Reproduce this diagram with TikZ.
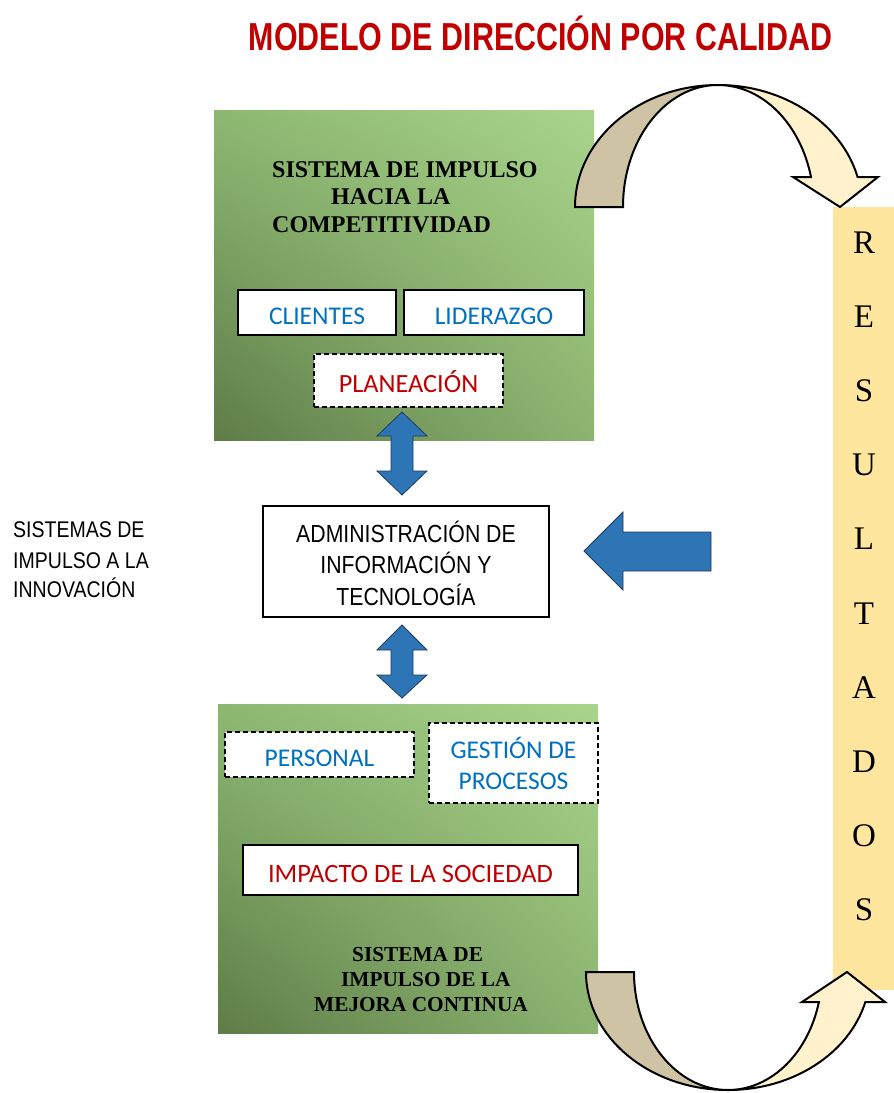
\documentclass[tikz,border=0pt]{standalone}
\usepackage{fontspec}
\setmainfont{Liberation Serif}
\newfontfamily\boxfont{Carlito}
\newfontfamily\narrowsans[FakeStretch=0.86]{Liberation Sans}
\newfontfamily\titlefont[FakeStretch=0.78]{Liberation Sans}
\usetikzlibrary{calc,shadings}

\definecolor{titlered}{HTML}{C00000}
\definecolor{txtblue}{HTML}{0070C0}
\definecolor{arrblue}{HTML}{2E75B6}
\definecolor{arredge}{HTML}{1F3A5C}
\definecolor{tanshade}{HTML}{CEC3A4}
\definecolor{creamshade}{HTML}{FFF2CC}
\definecolor{barfill}{HTML}{FFE69F}
\definecolor{gUL}{HTML}{8DB872}
\definecolor{gUR}{HTML}{A9D48B}
\definecolor{gLL}{HTML}{5E7C48}
\definecolor{gLR}{HTML}{8CB470}

\tikzset{
  greenbox/.style={rectangle, inner sep=0pt,
    upper left=gUL, upper right=gUR, lower left=gLL, lower right=gLR},
  solidbox/.style={rectangle, draw=black, line width=1.6pt, fill=white,
    inner sep=0pt, font=\boxfont\fontsize{25.5}{31}\selectfont, align=center},
  dashbox/.style={solidbox, dash pattern=on 5pt off 3pt},
  capsfix/.style={text height=24.5pt, text depth=0pt},
  systitle/.style={anchor=base west, inner sep=0pt, font=\bfseries\fontsize{#1}{#1}\selectfont},
  sanslabel/.style={inner sep=0pt, font=\narrowsans\fontsize{#1}{#1}\selectfont},
  bluearrow/.style={fill=arrblue, draw=arredge, line width=0.8pt, line join=miter},
  curvetan/.style={fill=tanshade, draw=black, line width=2pt, line join=miter},
  curvecream/.style={fill=creamshade, draw=black, line width=2pt, line join=miter},
  letter/.style={anchor=base, inner sep=0pt, font=\fontsize{33}{33}\selectfont}
}

\begin{document}
\begin{tikzpicture}[x=1pt, y=-1pt]
\useasboundingbox (0,0) rectangle (894,1093);

% heading
\node[anchor=base, inner sep=0pt, text=titlered,
      font=\titlefont\bfseries\fontsize{39}{40}\selectfont] (title) at (540.5,50)
  {MODELO DE DIRECCIÓN POR CALIDAD};

% upper system block
\node[greenbox, minimum width=380pt, minimum height=330pt] (compet) at (404,275) {};
\node[systitle=24] (compA) at (272,177) {SISTEMA DE IMPULSO};
\node[systitle=24] (compB) at (331,204) {HACIA LA};
\node[systitle=24] (compC) at (272,232) {COMPETITIVIDAD};
\node[solidbox, capsfix, text=txtblue, minimum width=158pt, minimum height=45pt] (clientes) at (317,312.5) {CLIENTES};
\node[solidbox, capsfix, text=txtblue, minimum width=180pt, minimum height=45pt] (liderazgo) at (494,312.5) {LIDERAZGO};
\node[dashbox, capsfix, text=titlered, minimum width=189pt, minimum height=53pt,
      font=\boxfont\fontsize{26.3}{31}\selectfont] (planeacion) at (408.5,380.5) {PLANEACIÓN};

% lower system block
\node[greenbox, minimum width=380pt, minimum height=329pt] (mejora) at (408,868.5) {};
\node[dashbox, capsfix, text=txtblue, minimum width=189pt, minimum height=45pt] (personal) at (319.5,754.5) {PERSONAL};
\node[dashbox, text=txtblue, minimum width=169pt, minimum height=80pt] (procesos) at (513.5,763) {GESTIÓN DE\\PROCESOS};
\node[solidbox, capsfix, text=titlered, minimum width=335pt, minimum height=50pt,
      font=\boxfont\fontsize{26.5}{31}\selectfont] (impacto) at (410.5,870) {IMPACTO DE LA SOCIEDAD};
\node[systitle=21.3] (mejA) at (352,961) {SISTEMA DE};
\node[systitle=21.3] (mejB) at (341,986) {IMPULSO DE LA};
\node[systitle=21.3] (mejC) at (314,1011) {MEJORA CONTINUA};

% central block
\node[rectangle, draw=black, line width=1.4pt, fill=white, inner sep=0pt,
      minimum width=286pt, minimum height=111pt, align=center,
      text height=87pt, text depth=0pt,
      font=\narrowsans\fontsize{24.7}{31.5}\selectfont] (admin) at (406,561.5)
  {ADMINISTRACIÓN DE\\INFORMACIÓN Y\\TECNOLOGÍA};

% side caption
\node[sanslabel=22.7, anchor=base west] (innA) at (13,537) {SISTEMAS DE};
\node[sanslabel=22.7, anchor=base west] (innB) at (13,568) {IMPULSO A LA};
\node[sanslabel=22.7, anchor=base west] (innC) at (13,597) {INNOVACIÓN};

% two-way links to the central block
\coordinate (ua) at (402,412);
\coordinate (ub) at (402,495);
\coordinate (la) at (402,625);
\coordinate (lb) at (402,698);
\draw[bluearrow] (ua) -- ++(25,24) -- ++(-14,0) -- ($(ub)+(11,-24)$) -- ++(14,0)
  -- (ub) -- ++(-25,-24) -- ++(14,0) -- ($(ua)+(-11,24)$) -- ++(-14,0) -- cycle;
\draw[bluearrow] (la) -- ++(25,25) -- ++(-14,0) -- ($(lb)+(11,-23)$) -- ++(14,0)
  -- (lb) -- ++(-25,-23) -- ++(14,0) -- ($(la)+(-11,25)$) -- ++(-14,0) -- cycle;

% feedback arrow into the central block
\coordinate (fb) at (584,551);
\draw[bluearrow] (fb) -- ++(39,-39) -- ++(0,20) -- ++(88,0) -- ++(0,39)
  -- ++(-88,0) -- ++(0,19) -- cycle;

% results column
\node[fill=barfill, inner sep=0pt, minimum width=61pt, minimum height=783pt] (bar) at (863.5,598.5) {};
\foreach \ch [count=\i from 0] in {R,E,S,U,L,T,A,D,O,S}
  \node[letter] (res\i) at (864,{253+74.2*\i}) {\ch};

% upper curved arrow
\draw[curvetan] (575,207) arc[start angle=180, end angle=270, x radius=143, y radius=122]
  arc[start angle=270, end angle=180, x radius=95, y radius=122] -- cycle;
\draw[curvecream] (718,85) arc[start angle=270, end angle=345.76, x radius=144, y radius=122]
  -- (878,177) -- (840,207) -- (793,177) -- (811,177)
  arc[start angle=345.76, end angle=270, x radius=96, y radius=122] -- cycle;

% lower curved arrow
\draw[curvetan] (586,972) arc[start angle=180, end angle=90, x radius=142, y radius=118]
  arc[start angle=90, end angle=180, x radius=94, y radius=118] -- cycle;
\draw[curvecream] (728,1090) arc[start angle=90, end angle=14.73, x radius=142, y radius=118]
  -- (885,1002) -- (847,972) -- (802,1002) -- (818.9,1002)
  arc[start angle=14.73, end angle=90, x radius=94, y radius=118] -- cycle;
\end{tikzpicture}
\end{document}
